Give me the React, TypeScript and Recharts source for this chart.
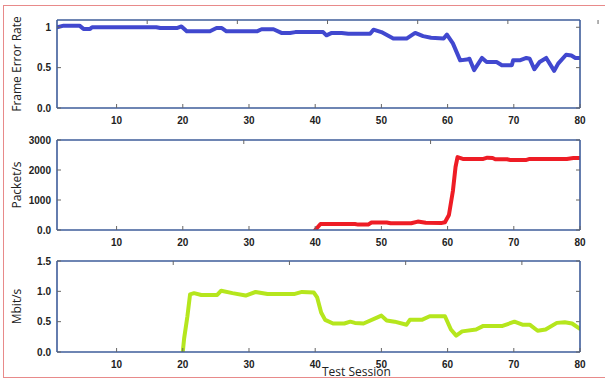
import React from "react";
import { LineChart, Line, XAxis, YAxis } from "recharts";

// ---- Data ----
const xTicks = [10, 20, 30, 40, 50, 60, 70, 80];

const ferSessions = [1, 2, 4.4, 5, 6, 6.3, 16, 16.6, 19.1, 19.8, 20.6, 24.1, 25.1, 25.9, 26.6, 31.2, 31.9, 33.7, 34.9, 36.2, 37, 41.2, 41.7, 42.5, 44, 45, 48.3, 48.8, 50, 51.8, 53.8, 55.1, 56.3, 57.5, 59.4, 59.9, 60.8, 61.9, 62.9, 63.3, 64, 65.2, 65.9, 67.4, 68.2, 69.7, 69.9, 70.9, 71.9, 72.4, 73.1, 73.9, 74.9, 76.1, 76.7, 77.9, 78.7, 79.3, 80];
const ferValues = [1.0, 1.02, 1.02, 0.98, 0.98, 1.0, 1.0, 0.99, 0.99, 1.01, 0.95, 0.95, 0.99, 0.99, 0.95, 0.95, 0.975, 0.975, 0.93, 0.93, 0.94, 0.94, 0.9, 0.93, 0.93, 0.92, 0.92, 0.97, 0.94, 0.86, 0.86, 0.93, 0.89, 0.87, 0.86, 0.91, 0.8, 0.59, 0.6, 0.61, 0.47, 0.62, 0.57, 0.57, 0.53, 0.53, 0.59, 0.59, 0.62, 0.61, 0.48, 0.57, 0.62, 0.46, 0.55, 0.66, 0.65, 0.62, 0.62];
const ferTicks = [0, 0.5, 1];
const ferTickLabels = ["0.0", "0.5", "1"];

const pktSessions = [40, 40.8, 46, 46.5, 48, 48.5, 50.8, 51.4, 54.5, 55.5, 56.7, 59, 59.6, 60.2, 60.8, 61.2, 61.5, 62.3, 65.4, 66, 66.8, 67.2, 69, 69.5, 71.8, 72.4, 78, 79, 80];
const pktValues = [0, 200, 200, 180, 180, 250, 250, 225, 225, 280, 240, 230, 260, 500, 1300, 2100, 2430, 2370, 2370, 2410, 2400, 2360, 2360, 2330, 2330, 2370, 2370, 2400, 2400];
const pktTicks = [0, 1000, 2000, 3000];
const pktTickLabels = ["0.0", "1000", "2000", "3000"];

const mbitSessions = [20, 20.2, 20.7, 21.1, 21.7, 22.8, 25.2, 25.8, 27.5, 29.5, 31, 32.8, 36.8, 38, 39.8, 40.3, 40.9, 41.5, 42.7, 44.4, 45.3, 46, 47.3, 50, 50.8, 52, 53.8, 54.3, 56.1, 57.3, 59.6, 60.5, 61.3, 62.2, 64.3, 65.4, 68.3, 70.1, 71.3, 72.4, 73.6, 74.8, 76.5, 77.7, 78.8, 80];
const mbitValues = [0, 0.22, 0.59, 0.95, 0.97, 0.94, 0.94, 1.01, 0.97, 0.93, 0.99, 0.955, 0.955, 0.99, 0.98, 0.9, 0.65, 0.53, 0.47, 0.47, 0.5, 0.48, 0.47, 0.6, 0.52, 0.5, 0.45, 0.53, 0.53, 0.59, 0.59, 0.37, 0.27, 0.34, 0.37, 0.43, 0.43, 0.5, 0.45, 0.45, 0.35, 0.37, 0.48, 0.49, 0.47, 0.38];
const mbitTicks = [0, 0.5, 1, 1.5];
const mbitTickLabels = ["0.0", "0.5", "1.0", "1.5"];

// ---- Styles ----
const FRAME = "#3e5c9a";
const TICK = "#666";
const tickFont = { fontFamily: "'Liberation Sans', Arial, sans-serif", fontWeight: 700, fontSize: 10, fill: "#222" } as const;
const labelFont = { fontFamily: "'Open Sans', sans-serif", fontSize: 12, fill: "#222" } as const;

const BottomTick = (p: any) => (
  <g>
    <line x1={p.x} y1={p.y} x2={p.x} y2={p.y - 4} stroke={TICK} strokeWidth={1} />
    <text x={p.x} y={p.y + 16} textAnchor="middle" style={tickFont}>{p.payload.value}</text>
  </g>
);
const TopTick = (p: any) => (
  <line x1={p.x} y1={p.y} x2={p.x} y2={p.y + 4} stroke={TICK} strokeWidth={1} />
);
const makeLeftTick = (ticks: number[], labels: string[]) => (p: any) => (
  <g>
    <line x1={p.x} y1={p.y} x2={p.x + 4} y2={p.y} stroke={TICK} strokeWidth={1} />
    <text x={p.x - 6} y={p.y + 3.5} textAnchor="end" style={tickFont}>
      {labels[ticks.indexOf(p.payload.value)]}
    </text>
  </g>
);
const RightTick = (p: any) => (
  <line x1={p.x} y1={p.y} x2={p.x - 4} y2={p.y} stroke={TICK} strokeWidth={1} />
);
const yLabel = (text: string) => (p: any) => {
  const vb = p.viewBox;
  const cx = 16;
  const cy = vb.y + vb.height / 2;
  return (
    <text x={cx} y={cy} transform={`rotate(-90 ${cx} ${cy})`} textAnchor="middle" dominantBaseline="central" style={labelFont}>
      {text}
    </text>
  );
};

type PanelProps = {
  top: number;
  height: number;
  bottomAxis: number;
  sessions: number[];
  values: number[];
  domain: [number, number];
  ticks: number[];
  tickLabels: string[];
  color: string;
  label: string;
  xLabel?: boolean;
};

const Panel = ({ top, height, bottomAxis, sessions, values, domain, ticks, tickLabels, color, label, xLabel }: PanelProps) => {
  const data = sessions.map((s, i) => ({ session: s, value: values[i] }));
  return (
    <div style={{ position: "absolute", left: 0, top, width: 605, height }}>
      <LineChart width={605} height={height} data={data} margin={{ top: 19, right: 24, bottom: 0, left: 0 }} style={{ overflow: "visible" }}>
        <XAxis
          dataKey="session"
          type="number"
          domain={[1, 80]}
          ticks={xTicks}
          height={bottomAxis}
          tickSize={0}
          tickMargin={0}
          tickLine={false}
          tick={BottomTick}
          axisLine={{ stroke: FRAME, strokeWidth: 1.6 }}
          interval={0}
          allowDataOverflow
          label={
            xLabel
              ? (p: any) => (
                  <text x={p.viewBox.x + 265} y={p.viewBox.y + 24} textAnchor="start" style={labelFont}>
                    Test Session
                  </text>
                )
              : undefined
          }
        />
        <XAxis
          xAxisId="top"
          orientation="top"
          type="number"
          domain={[1, 80]}
          ticks={xTicks}
          height={1}
          tickSize={0}
          tickMargin={0}
          tickLine={false}
          tick={TopTick}
          axisLine={{ stroke: FRAME, strokeWidth: 1.6 }}
          interval={0}
          allowDataOverflow
        />
        <YAxis
          type="number"
          domain={domain}
          ticks={ticks}
          width={57}
          tickSize={0}
          tickMargin={0}
          tickLine={false}
          tick={makeLeftTick(ticks, tickLabels)}
          axisLine={{ stroke: FRAME, strokeWidth: 1.6 }}
          interval={0}
          allowDataOverflow
          label={yLabel(label)}
        />
        <YAxis
          yAxisId="right"
          orientation="right"
          type="number"
          domain={domain}
          ticks={ticks}
          width={1}
          tickSize={0}
          tickMargin={0}
          tickLine={false}
          tick={RightTick}
          axisLine={{ stroke: FRAME, strokeWidth: 1.6 }}
          interval={0}
          allowDataOverflow
        />
        <Line
          type="linear"
          dataKey="value"
          stroke={color}
          strokeWidth={4}
          strokeLinejoin="round"
          strokeLinecap="round"
          dot={false}
          activeDot={false}
          isAnimationActive={false}
        />
      </LineChart>
    </div>
  );
};

export default function App() {
  return (
    <div style={{ position: "absolute", left: 0, top: 0, width: 605, height: 379, overflow: "hidden", background: "#fff" }}>
      <div style={{ position: "absolute", left: 3, top: 5, width: 640, height: 371, border: "1.5px solid #e88a8a" }} />
      <Panel top={0} height={130} bottomAxis={22} sessions={ferSessions} values={ferValues} domain={[0, 1.09]} ticks={ferTicks} tickLabels={ferTickLabels} color="#4148cf" label="Frame Error Rate" />
      <Panel top={120} height={132} bottomAxis={22} sessions={pktSessions} values={pktValues} domain={[0, 3000]} ticks={pktTicks} tickLabels={pktTickLabels} color="#ee1c25" label="Packet/s" />
      <Panel top={241} height={138} bottomAxis={27} sessions={mbitSessions} values={mbitValues} domain={[0, 1.5]} ticks={mbitTicks} tickLabels={mbitTickLabels} color="#b5e61d" label="Mbit/s" xLabel />
    </div>
  );
}
